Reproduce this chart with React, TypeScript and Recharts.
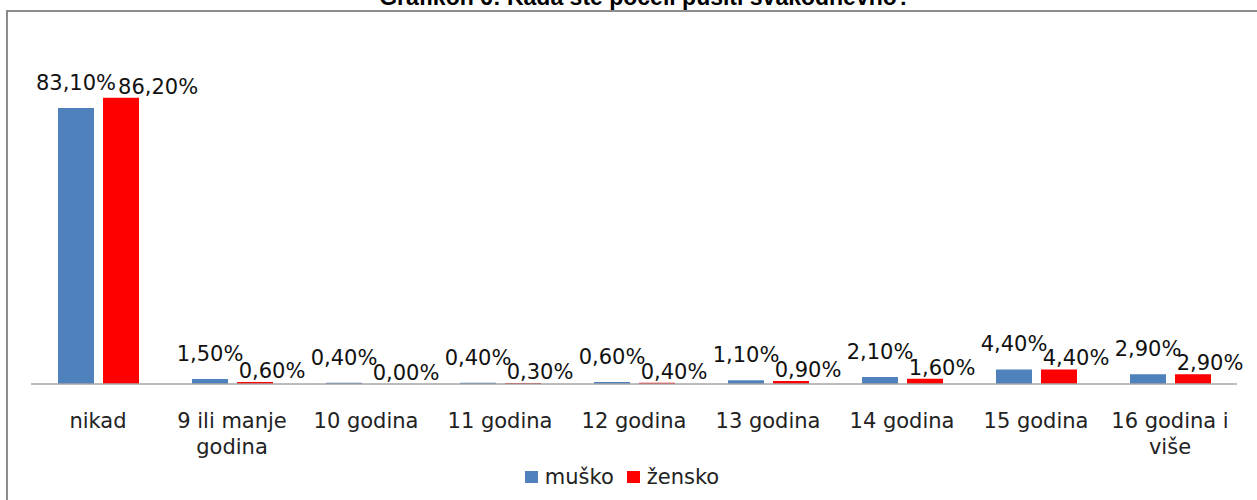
import React from "react";
import { Bar, BarChart, LabelList, Legend, XAxis, YAxis } from "recharts";

const categories = [
  "nikad",
  "9 ili manje godina",
  "10 godina",
  "11 godina",
  "12 godina",
  "13 godina",
  "14 godina",
  "15 godina",
  "16 godina i više",
];
const musko = [83.1, 1.5, 0.4, 0.4, 0.6, 1.1, 2.1, 4.4, 2.9];
const zensko = [86.2, 0.6, 0.0, 0.3, 0.4, 0.9, 1.6, 4.4, 2.9];

const data = categories.map((name, i) => ({ name, musko: musko[i], zensko: zensko[i] }));

const FONT = "'DejaVu Sans', sans-serif";
const FONT_SIZE = 21;
const BLUE = "#4F81BD";
const RED = "#FF0000";
const BAR = 36;
const GAP = 9;

const fmt = (v: number) => v.toFixed(2).replace(".", ",") + "%";

let ctx: CanvasRenderingContext2D | null = null;
function textWidth(s: string) {
  if (!ctx) ctx = document.createElement("canvas").getContext("2d");
  if (!ctx) return s.length * FONT_SIZE * 0.6;
  ctx.font = `${FONT_SIZE}px 'DejaVu Sans'`;
  return ctx.measureText(s).width;
}

function wrap(label: string, maxWidth: number) {
  const lines: string[] = [];
  let cur = "";
  for (const w of label.split(" ")) {
    const next = cur ? cur + " " + w : w;
    if (cur && textWidth(next) > maxWidth) {
      lines.push(cur);
      cur = w;
    } else {
      cur = next;
    }
  }
  if (cur) lines.push(cur);
  return lines;
}

function CategoryTick(props: any) {
  const { x, y, payload } = props;
  const lines = wrap(String(payload.value), 130);
  return (
    <text x={x} y={y} textAnchor="middle" fontFamily={FONT} fontSize={FONT_SIZE} fill="#222">
      {lines.map((l, i) => (
        <tspan key={i} x={x} dy={i === 0 ? 15 : 26}>
          {l}
        </tspan>
      ))}
    </text>
  );
}

function MuskoLabel(props: any) {
  const { x, y, width, value } = props;
  return (
    <text x={x + width / 2} y={y - 18} textAnchor="middle" fontFamily={FONT} fontSize={FONT_SIZE} fill="#111">
      {fmt(Number(value))}
    </text>
  );
}

// red labels sit to the right; pushed further when they would collide with the blue one
function ZenskoLabel(props: any) {
  const { x, y, width, value, index } = props;
  const text = fmt(Number(value));
  let cx = x + width / 2 + 17;
  const blueRight = x - GAP - BAR / 2 + textWidth(fmt(musko[index])) / 2;
  const overlap = blueRight - (cx - textWidth(text) / 2);
  if (overlap > 8) cx += overlap + 2;
  return (
    <text x={cx} y={y - 4} textAnchor="middle" fontFamily={FONT} fontSize={FONT_SIZE} fill="#111">
      {text}
    </text>
  );
}

function LegendBox() {
  const item = (color: string, label: string) => (
    <span style={{ display: "inline-flex", alignItems: "center", marginRight: 13 }}>
      <span style={{ width: 13, height: 12, background: color, display: "inline-block", marginRight: 7 }} />
      <span>{label}</span>
    </span>
  );
  return (
    <div style={{ fontFamily: FONT, fontSize: FONT_SIZE, color: "#222", textAlign: "center", lineHeight: "24px" }}>
      {item(BLUE, "muško")}
      {item(RED, "žensko")}
    </div>
  );
}

export default function App() {
  return (
    <div style={{ position: "fixed", left: 0, top: 0, width: 1257, height: 500, background: "#fff", overflow: "hidden" }}>
      <div
        style={{
          position: "absolute",
          left: 0,
          width: 1290,
          top: -16,
          textAlign: "center",
          fontFamily: "'Liberation Sans', sans-serif",
          fontWeight: "bold",
          fontSize: 23,
          color: "#000",
        }}
      >
        Grafikon 6: Kada ste počeli pušiti svakodnevno?
      </div>
      <div
        style={{
          position: "absolute",
          left: 6,
          top: 10,
          width: 1300,
          height: 600,
          borderLeft: "2px solid #8c8c8c",
          borderTop: "2px solid #8c8c8c",
        }}
      />
      <div style={{ position: "absolute", left: 0, top: 0 }}>
        <BarChart
          width={1257}
          height={500}
          data={data}
          margin={{ top: 52, right: 20, left: 31, bottom: 36 }}
          barSize={BAR}
          barGap={GAP}
        >
          <XAxis
            dataKey="name"
            interval={0}
            height={80}
            tickLine={false}
            tickMargin={23}
            axisLine={{ stroke: "#a6a6a6", strokeWidth: 1.5 }}
            tick={<CategoryTick />}
          />
          <YAxis hide domain={[0, 100]} />
          <Legend
            layout="horizontal"
            align="center"
            verticalAlign="middle"
            wrapperStyle={{ top: 464, left: 0, width: 1257 }}
            content={<LegendBox />}
          />
          <Bar dataKey="musko" fill={BLUE} minPointSize={0.01} isAnimationActive={false}>
            <LabelList dataKey="musko" content={<MuskoLabel />} />
          </Bar>
          <Bar dataKey="zensko" fill={RED} minPointSize={0.01} isAnimationActive={false}>
            <LabelList dataKey="zensko" content={<ZenskoLabel />} />
          </Bar>
        </BarChart>
      </div>
    </div>
  );
}
